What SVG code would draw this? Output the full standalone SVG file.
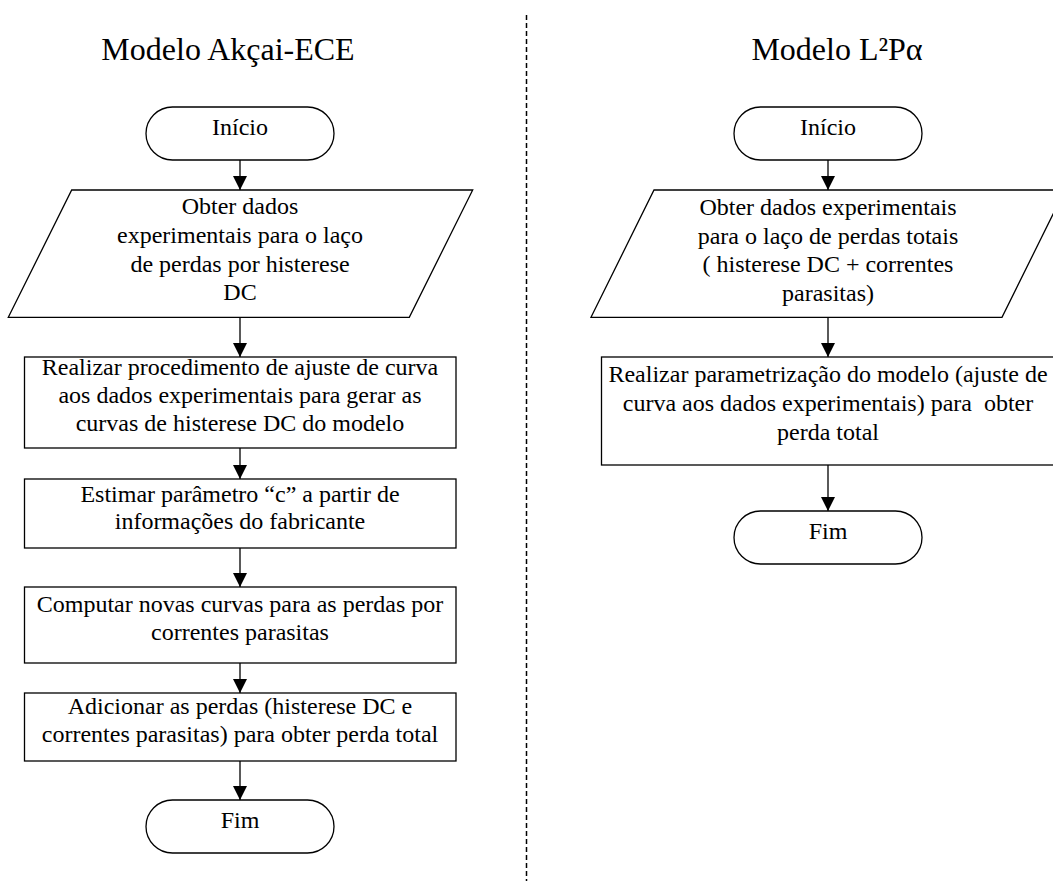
<svg xmlns="http://www.w3.org/2000/svg" width="1053" height="881" viewBox="0 0 1053 881">
<defs>
<marker id="arr" markerUnits="userSpaceOnUse" markerWidth="14" markerHeight="16" refX="14" refY="7" orient="auto">
<path d="M0,0 L14,7 L0,14 Z" fill="#000"/>
</marker>
<style>
.s{fill:#fff;stroke:#000;stroke-width:1.3}
.t{font-size:24px;fill:#000;text-anchor:middle}
.h{font-size:32px;fill:#000;text-anchor:middle}
.c{stroke:#000;stroke-width:1.3;fill:none;marker-end:url(#arr)}
</style>
</defs>
<rect width="1053" height="881" fill="#fff"/>
<line x1="526.5" y1="15" x2="526.5" y2="881" stroke="#000" stroke-width="1.5" stroke-dasharray="5,3"/>
<g font-family="Liberation Serif, Times New Roman, Tinos, DejaVu Serif, serif">
<text class="h" x="228" y="60">Modelo Akçai-ECE</text>
<text class="h" x="837" y="60">Modelo L²Pα</text>
</g>
<g id="connectors">
<line class="c" x1="240" y1="160" x2="240" y2="190"/>
<line class="c" x1="240" y1="317" x2="240" y2="357"/>
<line class="c" x1="240" y1="448" x2="240" y2="479"/>
<line class="c" x1="240" y1="548" x2="240" y2="587"/>
<line class="c" x1="240" y1="663" x2="240" y2="693"/>
<line class="c" x1="240" y1="761" x2="240" y2="800"/>
<line class="c" x1="828" y1="160" x2="828" y2="190"/>
<line class="c" x1="828" y1="317" x2="828" y2="357"/>
<line class="c" x1="828" y1="465" x2="828" y2="511"/>
</g>
<g font-family="Liberation Serif, Times New Roman, Tinos, DejaVu Serif, serif">
<g id="l_inicio">
<rect class="s" x="146" y="107" width="188" height="53" rx="26.5"/>
<text class="t" x="240" y="135">Início</text>
</g>
<g id="l_obter">
<polygon class="s" points="71.7,190 472.7,190 409.3,317.3 8.3,317.3"/>
<text class="t" x="240" y="214">Obter dados</text>
<text class="t" x="240" y="243">experimentais para o laço</text>
<text class="t" x="240" y="271.5">de perdas por histerese</text>
<text class="t" x="240" y="300">DC</text>
</g>
<g id="l_ajuste">
<rect class="s" x="24.5" y="357" width="431.5" height="91"/>
<text class="t" x="240" y="375">Realizar procedimento de ajuste de curva</text>
<text class="t" x="240" y="403">aos dados experimentais para gerar as</text>
<text class="t" x="240" y="431">curvas de histerese DC do modelo</text>
</g>
<g id="l_estimar">
<rect class="s" x="24.5" y="479" width="431.5" height="69"/>
<text class="t" x="240" y="501.5">Estimar parâmetro “c” a partir de</text>
<text class="t" x="240" y="529">informações do fabricante</text>
</g>
<g id="l_computar">
<rect class="s" x="24.5" y="587" width="431.5" height="76"/>
<text class="t" x="240" y="611.5">Computar novas curvas para as perdas por</text>
<text class="t" x="240" y="639.5">correntes parasitas</text>
</g>
<g id="l_adicionar">
<rect class="s" x="24.5" y="693" width="431.5" height="68"/>
<text class="t" x="240" y="713.5">Adicionar as perdas (histerese DC e</text>
<text class="t" x="240" y="742">correntes parasitas) para obter perda total</text>
</g>
<g id="l_fim">
<rect class="s" x="146" y="800" width="188" height="53" rx="26.5"/>
<text class="t" x="240" y="828">Fim</text>
</g>
<g id="r_inicio">
<rect class="s" x="734" y="107" width="188" height="53" rx="26.5"/>
<text class="t" x="828" y="135">Início</text>
</g>
<g id="r_obter">
<polygon class="s" points="654,190 1065,190 1002,317.3 591,317.3"/>
<text class="t" x="828" y="214.5">Obter dados experimentais</text>
<text class="t" x="828" y="243.5">para o laço de perdas totais</text>
<text class="t" x="828" y="272">( histerese DC + correntes</text>
<text class="t" x="828" y="301">parasitas)</text>
</g>
<g id="r_param">
<rect class="s" x="601.5" y="357" width="453" height="108"/>
<text class="t" x="828" y="382">Realizar parametrização do modelo (ajuste de</text>
<text class="t" x="828" y="411" xml:space="preserve">curva aos dados experimentais) para  obter</text>
<text class="t" x="828" y="439.5">perda total</text>
</g>
<g id="r_fim">
<rect class="s" x="734" y="511" width="188" height="53" rx="26.5"/>
<text class="t" x="828" y="539">Fim</text>
</g>
</g>
</svg>
